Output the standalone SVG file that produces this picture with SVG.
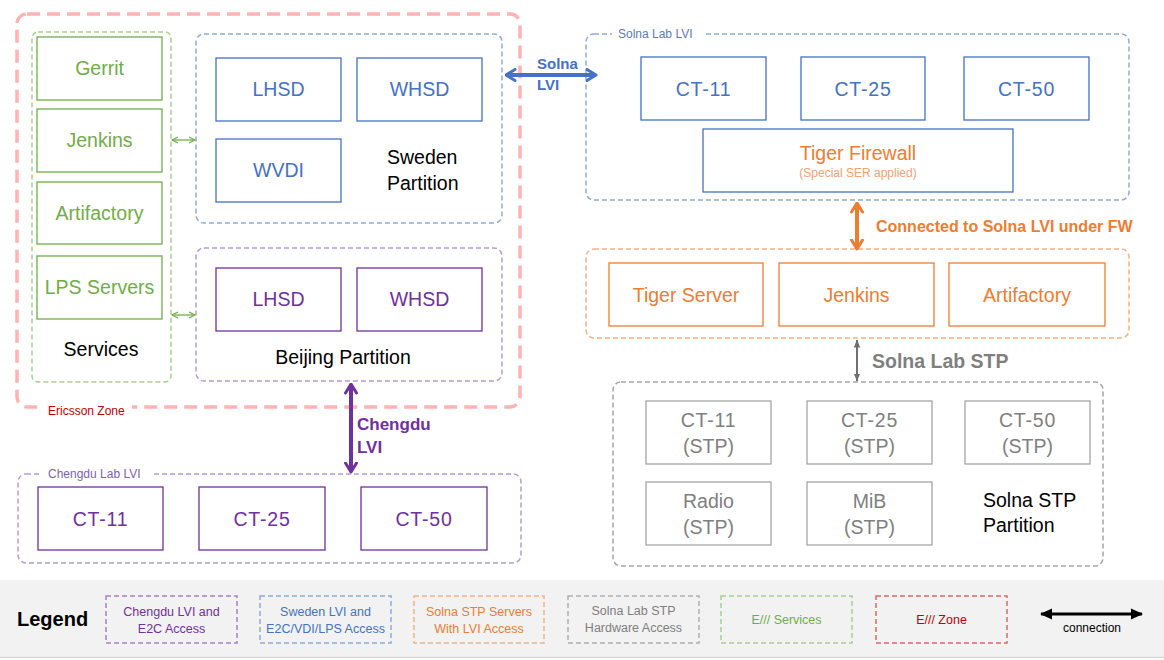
<svg xmlns="http://www.w3.org/2000/svg" width="1164" height="660" viewBox="0 0 1164 660">
<style>
text{font-family:"Liberation Sans",Arial,sans-serif}
.zone{fill:none;stroke:#ffb3b3;stroke-width:3.5;stroke-dasharray:13 7}
.cg{fill:none;stroke:#a9d18e;stroke-width:1.5;stroke-dasharray:5 3}
.cb{fill:none;stroke:#8faadc;stroke-width:1.5;stroke-dasharray:5 3}
.cp{fill:none;stroke:#b39ddb;stroke-width:1.5;stroke-dasharray:5 3}
.co{fill:none;stroke:#f4b183;stroke-width:1.5;stroke-dasharray:5 3}
.cy{fill:none;stroke:#a6a6a6;stroke-width:1.5;stroke-dasharray:5 3}
.cr{fill:none;stroke:#e06666;stroke-width:1.5;stroke-dasharray:5 3}
.ng{fill:#fff;stroke:#70ad47;stroke-width:1.3}
.nb{fill:#fff;stroke:#4472c4;stroke-width:1.3}
.np{fill:#fff;stroke:#7030a0;stroke-width:1.3}
.no{fill:#fff;stroke:#ed7d31;stroke-width:1.3}
.ny{fill:#fff;stroke:#a6a6a6;stroke-width:1.3}
.t{font-size:19.5px;text-anchor:middle}
.ct{letter-spacing:0.8px}
.tg{fill:#70ad47}.tb{fill:#4472c4}.tp{fill:#7030a0}.to{fill:#ed7d31}.ty{fill:#7f7f7f}.tk{fill:#000}
.lbl{font-size:12px}
.lg{font-size:12.5px;text-anchor:middle}
.bold{font-weight:bold}
</style>
<defs>
<marker id="chB" markerUnits="userSpaceOnUse" viewBox="0 0 12 14" refX="10.5" refY="7" markerWidth="12" markerHeight="14" orient="auto-start-reverse"><path d="M1.5,1.5 L10.5,7 L1.5,12.5" fill="none" stroke="#4472c4" stroke-width="3" stroke-linecap="round" stroke-linejoin="round"/></marker>
<marker id="chP" markerUnits="userSpaceOnUse" viewBox="0 0 12 14" refX="10.5" refY="7" markerWidth="12" markerHeight="14" orient="auto-start-reverse"><path d="M1.5,1.5 L10.5,7 L1.5,12.5" fill="none" stroke="#7030a0" stroke-width="3" stroke-linecap="round" stroke-linejoin="round"/></marker>
<marker id="chO" markerUnits="userSpaceOnUse" viewBox="0 0 12 14" refX="10.5" refY="7" markerWidth="12" markerHeight="14" orient="auto-start-reverse"><path d="M1.5,1.5 L10.5,7 L1.5,12.5" fill="none" stroke="#ed7d31" stroke-width="3" stroke-linecap="round" stroke-linejoin="round"/></marker>
<marker id="chG" markerUnits="userSpaceOnUse" viewBox="0 0 8 8" refX="7" refY="4" markerWidth="8" markerHeight="8" orient="auto-start-reverse"><path d="M1,1 L7,4 L1,7" fill="none" stroke="#70ad47" stroke-width="1.3" stroke-linejoin="round"/></marker>
<marker id="hY" markerUnits="userSpaceOnUse" viewBox="0 0 8 8" refX="7.5" refY="4" markerWidth="8" markerHeight="8" orient="auto-start-reverse"><path d="M0,0.8 L8,4 L0,7.2 Z" fill="#6f6f6f"/></marker>
<marker id="hK" markerUnits="userSpaceOnUse" viewBox="0 0 12 12" refX="11" refY="6" markerWidth="12" markerHeight="12" orient="auto-start-reverse"><path d="M0,0.5 L12,6 L0,11.5 Z" fill="#000"/></marker>
</defs>
<rect x="0" y="0" width="1164" height="660" fill="#fff"/>

<g id="ericsson-zone">
<rect class="zone" x="17" y="14" width="503" height="393" rx="10"/>
<rect x="42" y="401" width="90" height="14" fill="#fff"/>
<text class="lbl" x="48" y="415" fill="#c00000">Ericsson Zone</text>
</g>

<g id="services">
<rect class="cg" x="32" y="32" width="139" height="350" rx="6"/>
<text class="t tk" x="101" y="356">Services</text>
</g>
<g id="gerrit"><rect class="ng" x="37" y="37" width="125" height="63"/><text class="t tg" x="99.5" y="75">Gerrit</text></g>
<g id="jenkins-e"><rect class="ng" x="37" y="109" width="125" height="63"/><text class="t tg" x="99.5" y="147">Jenkins</text></g>
<g id="artifactory-e"><rect class="ng" x="37" y="182" width="125" height="62"/><text class="t tg" x="99.5" y="220">Artifactory</text></g>
<g id="lps"><rect class="ng" x="37" y="256" width="125" height="63"/><text class="t tg" x="99.5" y="294">LPS Servers</text></g>

<g id="sweden-partition">
<rect class="cb" x="196" y="34" width="306" height="189" rx="8"/>
<text class="t tk" x="387" y="164" style="text-anchor:start">Sweden</text>
<text class="t tk" x="387" y="190" style="text-anchor:start">Partition</text>
</g>
<g id="se-lhsd"><rect class="nb" x="216" y="58" width="125" height="63"/><text class="t tb" x="278.5" y="96">LHSD</text></g>
<g id="se-whsd"><rect class="nb" x="357" y="58" width="125" height="63"/><text class="t tb" x="419.5" y="96">WHSD</text></g>
<g id="se-wvdi"><rect class="nb" x="216" y="139" width="125" height="63"/><text class="t tb" x="278.5" y="177">WVDI</text></g>

<g id="beijing-partition">
<rect class="cp" x="196" y="248" width="306" height="133" rx="8"/>
<text class="t tk" x="343" y="364">Beijing Partition</text>
</g>
<g id="bj-lhsd"><rect class="np" x="216" y="268" width="125" height="63"/><text class="t tp" x="278.5" y="306">LHSD</text></g>
<g id="bj-whsd"><rect class="np" x="357" y="268" width="125" height="63"/><text class="t tp" x="419.5" y="306">WHSD</text></g>

<g id="solna-lab-lvi">
<rect class="cb" x="586" y="34" width="543" height="166" rx="8"/>
<rect x="612" y="27" width="92" height="14" fill="#fff"/>
<text class="lbl" x="618" y="38" fill="#5b7bc0">Solna Lab LVI</text>
</g>
<g id="lvi-ct11"><rect class="nb" x="641" y="57" width="125" height="63"/><text class="t tb ct" x="703.5" y="96">CT-11</text></g>
<g id="lvi-ct25"><rect class="nb" x="801" y="57" width="124" height="63"/><text class="t tb ct" x="863" y="96">CT-25</text></g>
<g id="lvi-ct50"><rect class="nb" x="964" y="57" width="125" height="63"/><text class="t tb ct" x="1026.5" y="96">CT-50</text></g>
<g id="tiger-firewall"><rect class="nb" x="703" y="129" width="310" height="63"/>
<text class="t to" x="858" y="160">Tiger Firewall</text>
<text x="858" y="177" font-size="12" text-anchor="middle" fill="#f4a170">(Special SER applied)</text></g>

<g id="solna-stp-servers">
<rect class="co" x="586" y="249" width="543" height="89" rx="8"/>
</g>
<g id="tiger-server"><rect class="no" x="609" y="263" width="154" height="63"/><text class="t to" x="686" y="302">Tiger Server</text></g>
<g id="jenkins-s"><rect class="no" x="779" y="263" width="155" height="63"/><text class="t to" x="856.5" y="302">Jenkins</text></g>
<g id="artifactory-s"><rect class="no" x="949" y="263" width="156" height="63"/><text class="t to" x="1027" y="302">Artifactory</text></g>

<g id="solna-stp-partition">
<rect class="cy" x="613" y="382" width="490" height="184" rx="8"/>
<text class="t tk" x="983" y="507" style="text-anchor:start">Solna STP</text>
<text class="t tk" x="983" y="532" style="text-anchor:start">Partition</text>
</g>
<g id="stp-ct11"><rect class="ny" x="646" y="401" width="125" height="63"/><text class="t ty ct" x="708.5" y="427">CT-11</text><text class="t ty" x="708.5" y="453">(STP)</text></g>
<g id="stp-ct25"><rect class="ny" x="807" y="401" width="125" height="63"/><text class="t ty ct" x="869.5" y="427">CT-25</text><text class="t ty" x="869.5" y="453">(STP)</text></g>
<g id="stp-ct50"><rect class="ny" x="965" y="401" width="125" height="63"/><text class="t ty ct" x="1027.5" y="427">CT-50</text><text class="t ty" x="1027.5" y="453">(STP)</text></g>
<g id="stp-radio"><rect class="ny" x="646" y="482" width="125" height="63"/><text class="t ty" x="708.5" y="508">Radio</text><text class="t ty" x="708.5" y="534">(STP)</text></g>
<g id="stp-mib"><rect class="ny" x="807" y="482" width="125" height="63"/><text class="t ty" x="869.5" y="508">MiB</text><text class="t ty" x="869.5" y="534">(STP)</text></g>

<g id="chengdu-lab-lvi">
<rect class="cp" x="18" y="474" width="503" height="89" rx="8"/>
<rect x="42" y="467" width="110" height="14" fill="#fff"/>
<text class="lbl" x="48" y="478" fill="#7f5fb0">Chengdu Lab LVI</text>
</g>
<g id="cd-ct11"><rect class="np" x="38" y="487" width="125" height="63"/><text class="t tp ct" x="100.5" y="526">CT-11</text></g>
<g id="cd-ct25"><rect class="np" x="199" y="487" width="126" height="63"/><text class="t tp ct" x="262" y="526">CT-25</text></g>
<g id="cd-ct50"><rect class="np" x="361" y="487" width="126" height="63"/><text class="t tp ct" x="424" y="526">CT-50</text></g>

<g id="connectors">
<line x1="172" y1="140" x2="195" y2="140" stroke="#70ad47" stroke-width="1.3" marker-start="url(#chG)" marker-end="url(#chG)"/>
<line x1="172" y1="315" x2="195" y2="315" stroke="#70ad47" stroke-width="1.3" marker-start="url(#chG)" marker-end="url(#chG)"/>
<text x="537" y="69" font-size="15" class="bold" fill="#4472c4">Solna</text>
<text x="537" y="90" font-size="15" class="bold" fill="#4472c4">LVI</text>
<line x1="506" y1="75" x2="596" y2="75" stroke="#4472c4" stroke-width="4" marker-start="url(#chB)" marker-end="url(#chB)"/>
<line x1="857" y1="203" x2="857" y2="249" stroke="#ed7d31" stroke-width="4" marker-start="url(#chO)" marker-end="url(#chO)"/>
<text x="876" y="232" font-size="16" class="bold" fill="#ed7d31">Connected to Solna LVI under FW</text>
<line x1="857" y1="340" x2="857" y2="381" stroke="#6f6f6f" stroke-width="2" marker-start="url(#hY)" marker-end="url(#hY)"/>
<text x="872" y="368" font-size="19.5" class="bold" fill="#7f7f7f">Solna Lab STP</text>
<line x1="351" y1="384" x2="351" y2="472" stroke="#7030a0" stroke-width="4" marker-start="url(#chP)" marker-end="url(#chP)"/>
<text x="357" y="430" font-size="17" class="bold" fill="#7030a0">Chengdu</text>
<text x="357" y="453" font-size="17" class="bold" fill="#7030a0">LVI</text>
</g>

<g id="legend">
<rect x="0" y="580" width="1164" height="77" fill="#f2f2f2"/>
<line x1="0" y1="657.5" x2="1164" y2="657.5" stroke="#d9d9d9" stroke-width="1.5"/>
<text x="17" y="626" font-size="20" class="bold" fill="#000">Legend</text>
<rect class="cp" x="106" y="596" width="131" height="47" style="stroke:#a680c8"/>
<text class="lg tp" x="171.5" y="616">Chengdu LVI and</text><text class="lg tp" x="171.5" y="633">E2C Access</text>
<rect class="cb" x="260" y="596" width="131" height="47"/>
<text class="lg tb" x="325.5" y="616">Sweden LVI and</text><text class="lg tb" x="325.5" y="633">E2C/VDI/LPS Access</text>
<rect class="co" x="414" y="596" width="130" height="47"/>
<text class="lg to" x="479" y="616">Solna STP Servers</text><text class="lg to" x="479" y="633">With LVI Access</text>
<rect class="cy" x="568" y="596" width="131" height="47" style="stroke:#b0b0b0"/>
<text class="lg ty" x="633.5" y="615">Solna Lab STP</text><text class="lg ty" x="633.5" y="632">Hardware Access</text>
<rect class="cg" x="721" y="596" width="131" height="47"/>
<text class="lg tg" x="786.5" y="624">E/// Services</text>
<rect class="cr" x="876" y="596" width="131" height="47"/>
<text class="lg" x="941.5" y="624" fill="#c00000">E/// Zone</text>
<line x1="1041" y1="614" x2="1142" y2="614" stroke="#000" stroke-width="3" marker-start="url(#hK)" marker-end="url(#hK)"/>
<text x="1092" y="632" font-size="12" text-anchor="middle" fill="#000">connection</text>
</g>
</svg>
